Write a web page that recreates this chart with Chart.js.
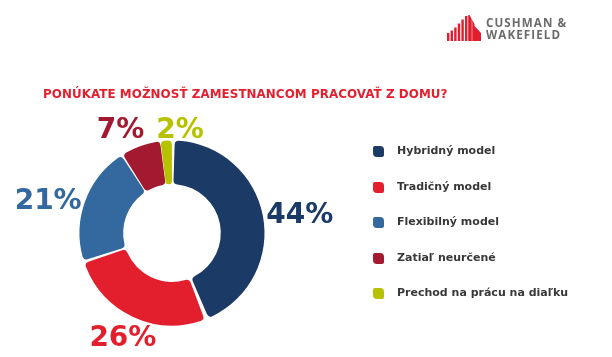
<!DOCTYPE html>
<html>
<head>
<meta charset="utf-8">
<script src="https://cdn.jsdelivr.net/npm/chart.js@4.4.1/dist/chart.umd.min.js"></script>
<style>
  html, body { margin: 0; padding: 0; background: #ffffff; }
  #wrap { position: relative; width: 612px; height: 357px; overflow: hidden; font-family: "DejaVu Sans", sans-serif; }
  #chartBox { position: absolute; left: 0; top: 0; width: 612px; height: 357px; }
  #title { position: absolute; left: 43px; top: 87px; font-size: 11.9px; font-weight: bold; color: #e3202f; white-space: nowrap; letter-spacing: 0.06px; }
  #legend { position: absolute; left: 373px; top: 146px; }
  .li { position: absolute; left: 0; height: 12px; white-space: nowrap; }
  .li .sw { position: absolute; left: 0; top: 0; width: 11px; height: 11px; border-radius: 2px 4px 2px 4px; }
  .li .tx { position: absolute; left: 24px; top: -2px; font-size: 11px; font-weight: bold; color: #383838; }
  #logo { position: absolute; left: 446px; top: 14px; }
  #logoText { position: absolute; left: 486px; top: 17px; font-family: "Open Sans", "DejaVu Sans", sans-serif; font-weight: 700; font-size: 11.6px; line-height: 12px; color: #6b6b6b; letter-spacing: 1.1px; }
</style>
</head>
<body>
<div id="wrap">
  <div id="chartBox"><canvas id="c"></canvas></div>
  <div id="title">PONÚKATE MOŽNOSŤ ZAMESTNANCOM PRACOVAŤ Z DOMU?</div>
  <div id="legend"></div>
  <svg id="logo" width="36" height="27" viewBox="0 0 36 27">
    <g fill="#e21d2d">
      <rect x="1" y="19" width="2.4" height="8"/>
      <rect x="4.6" y="16.5" width="2.4" height="10.5"/>
      <rect x="8.2" y="13.5" width="2.4" height="13.5"/>
      <rect x="11.8" y="9.5" width="2.4" height="17.5"/>
      <rect x="15.4" y="5.5" width="2.4" height="21.5"/>
      <rect x="19" y="2" width="2.4" height="25"/>
      <polygon points="22.2,1 23.5,1 28.5,10 28.5,12 35,19 35,27 22.2,27"/>
    </g>
    <line x1="26" y1="0" x2="26" y2="27" stroke="#ffffff" stroke-width="0.8" opacity="0.6"/>
  </svg>
  <div id="logoText">CUSHMAN &amp;<br>WAKEFIELD</div>
</div>
<script>
// ---- data ----
const categories = ["Hybridný model", "Tradičný model", "Flexibilný model", "Zatiaľ neurčené", "Prechod na prácu na diaľku"];
const shares = [44, 26, 21, 7, 2];
const sliceColors = ["#1b3a66", "#e31f2e", "#33699e", "#a3192f", "#b6c200"];
const valueSuffix = "%";

// ---- percentage labels outside the ring (with simple overlap avoidance) ----
const outerLabels = {
  id: "outerLabels",
  afterDatasetsDraw(chart) {
    const ctx = chart.ctx;
    const meta = chart.getDatasetMeta(0);
    const ds = chart.data.datasets[0];
    ctx.save();
    ctx.font = "bold 28px 'DejaVu Sans', sans-serif";
    ctx.textAlign = "center";
    ctx.textBaseline = "middle";
    const capH = 20, sideGap = 5, vertGap = 1, sep = 12;
    const boxes = meta.data.map((arc, i) => {
      const p = arc.getProps(["x", "y", "startAngle", "endAngle", "outerRadius"], true);
      const mid = (p.startAngle + p.endAngle) / 2;
      const dx = Math.cos(mid), dy = Math.sin(mid);
      const txt = ds.data[i] + valueSuffix;
      const w = ctx.measureText(txt).width;
      const side = Math.abs(dx) > Math.abs(dy);
      let x, y;
      if (side) {
        const r0 = p.outerRadius + sideGap;
        x = p.x + dx * r0 + Math.sign(dx) * w / 2;
        y = p.y + dy * r0;
      } else {
        const t = Math.abs(dx) * w / 2 + Math.abs(dy) * capH / 2;
        const r = p.outerRadius + vertGap + t;
        x = p.x + dx * r;
        y = p.y + dy * r;
      }
      return { txt, w, x, y, color: ds.backgroundColor[i] };
    });
    for (let i = 0; i < boxes.length; i++) {
      for (let j = i + 1; j < boxes.length; j++) {
        const a = boxes[i], b = boxes[j];
        const need = a.w / 2 + b.w / 2 + sep;
        const ddx = b.x - a.x;
        if (Math.abs(a.y - b.y) < capH + 4 && Math.abs(ddx) < need) {
          const push = (need - Math.abs(ddx)) / 2;
          const s = ddx >= 0 ? 1 : -1;
          a.x -= s * push;
          b.x += s * push;
        }
      }
    }
    boxes.forEach(b => {
      ctx.fillStyle = b.color;
      ctx.fillText(b.txt, b.x, b.y + 1);
    });
    ctx.restore();
  }
};

const chart = new Chart(document.getElementById("c"), {
  type: "doughnut",
  data: {
    labels: categories,
    datasets: [{
      data: shares,
      backgroundColor: sliceColors,
      borderWidth: 0,
      borderRadius: 4,
      spacing: 3,
      radius: 91,
      cutout: "52%"
    }]
  },
  options: {
    responsive: true,
    maintainAspectRatio: false,
    animation: false,
    layout: { padding: { left: 0, right: 268, top: 109, bottom: 0 } },
    plugins: {
      legend: { display: false },
      tooltip: { enabled: false }
    }
  },
  plugins: [outerLabels]
});

// ---- legend built from the chart's own legend items ----
const legendEl = document.getElementById("legend");
const items = chart.options.plugins.legend.labels.generateLabels(chart);
items.forEach((it, i) => {
  const row = document.createElement("div");
  row.className = "li";
  row.style.top = (i * 35.6) + "px";
  const sw = document.createElement("div");
  sw.className = "sw";
  sw.style.background = it.fillStyle;
  const tx = document.createElement("div");
  tx.className = "tx";
  tx.textContent = it.text;
  row.appendChild(sw);
  row.appendChild(tx);
  legendEl.appendChild(row);
});
</script>
</body>
</html>
